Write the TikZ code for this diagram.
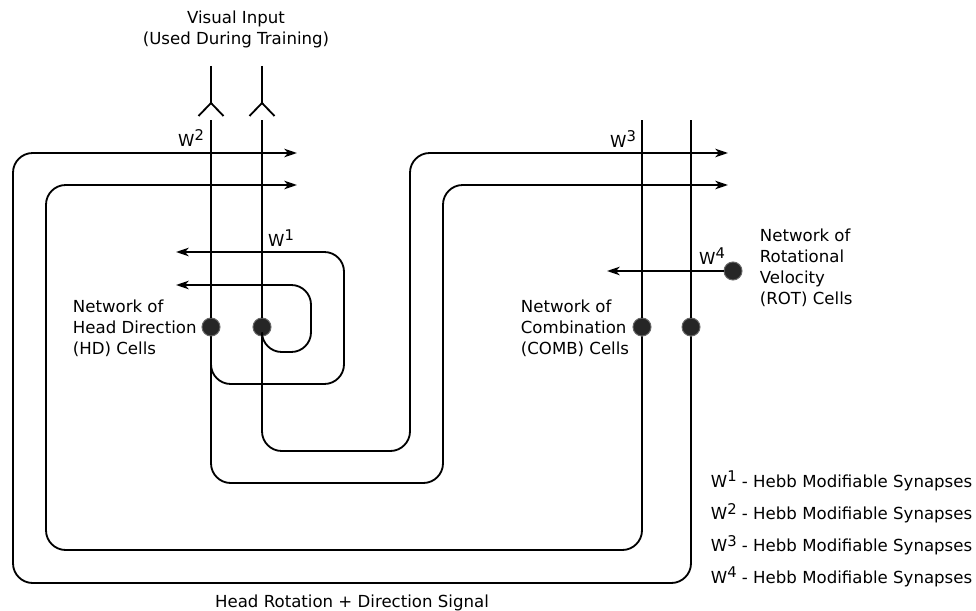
\documentclass[tikz,border=0pt]{standalone}
\usepackage{fontspec}
\setmainfont{DejaVu Sans}
\usetikzlibrary{arrows.meta, calc}

\newcommand{\wsyn}[1]{W\raisebox{3.8pt}{\fontsize{10.5}{12}\selectfont #1}}

\begin{document}
\begin{tikzpicture}[
    x=0.025cm, y=-0.025cm,
    line width=1.3pt,
    cell/.style={draw=black!60, fill=black!85, circle, line width=0.7pt, minimum size=0.45cm, inner sep=0pt},
    fibre/.style={rounded corners=14},
    syn/.style={fibre, -{Stealth[length=9pt, width=6pt, inset=2.5pt]}},
    txt/.style={font=\fontsize{11.8}{15}\selectfont, align=left, anchor=west, inner sep=0pt},
    wlab/.style={font=\fontsize{11.8}{15}\selectfont, inner sep=0pt}
]
    \useasboundingbox (0,0) rectangle (976,611);

    % ================= CELLS =================
    \node[cell] (HD1) at (211,327) {};
    \node[cell] (HD2) at (262,327) {};
    \node[cell] (COMB1) at (642,327) {};
    \node[cell] (COMB2) at (691,327) {};
    \node[cell] (ROT) at (733,271) {};

    % ================= END POINTS =================
    \coordinate (HD1_top) at (211,120);
    \coordinate (HD2_top) at (262,120);
    \coordinate (COMB1_top) at (642,120);
    \coordinate (COMB2_top) at (691,120);
    \coordinate (W1_a) at (176,252);
    \coordinate (W1_b) at (176,285);
    \coordinate (W2_a) at (297,153);
    \coordinate (W2_b) at (297,185);
    \coordinate (W3_a) at (728,153);
    \coordinate (W3_b) at (728,185);
    \coordinate (W4_end) at (607,271);

    % ================= VISUAL INPUT =================
    \foreach \x in {211,262} {
        \draw (\x,66) -- (\x,103);
        \draw (\x-12.5,116) -- (\x,103) -- (\x+12.5,116);
    }
    \draw (HD1) -- (HD1_top);
    \draw (HD2) -- (HD2_top);

    % ================= COMB INPUTS =================
    \draw (COMB1) -- (COMB1_top);
    \draw (COMB2) -- (COMB2_top);

    % HD - HD (W1)
    \draw[syn] (HD1) |- (344,384) |- (W1_a);
    \draw[syn] (HD2) |- (311,352) |- (W1_b);

    % HD - COMB (W3)
    \draw[syn] (HD2) |- (410,451) |- (W3_a);
    \draw[syn] (HD1) |- (443,483) |- (W3_b);

    % COMB - HD (W2)
    \draw[syn] (COMB2) |- (13,583) |- (W2_a);
    \draw[syn] (COMB1) |- (46,550) |- (W2_b);

    % ROT - COMB (W4)
    \draw[syn] (ROT) -- (W4_end);

    % ================= LABELS =================
    \node[wlab] (w1) at (281,238) {\wsyn{1}};
    \node[wlab] (w2) at (191,138) {\wsyn{2}};
    \node[wlab] (w3) at (623,139) {\wsyn{3}};
    \node[wlab] (w4) at (712,256) {\wsyn{4}};

    \node[wlab, align=center] (visual) at (236,29) {Visual Input\\(Used During Training)};
    \node[wlab, anchor=base] (signal) at (352,607) {Head Rotation + Direction Signal};

    \node[txt] (hd_text) at (72,328) {Network of\\Head Direction\\(HD) Cells};
    \node[txt] (comb_text) at (520,328) {Network of\\Combination\\(COMB) Cells};
    \node[txt] (rot_text) at (759,268) {Network of\\Rotational\\Velocity\\(ROT) Cells};

    % ================= LEGEND =================
    \foreach \i/\y in {1/481, 2/513, 3/545, 4/577}
        \node[txt] (leg\i) at (710,\y) {\wsyn{\i} - Hebb Modifiable Synapses};

\end{tikzpicture}
\end{document}
